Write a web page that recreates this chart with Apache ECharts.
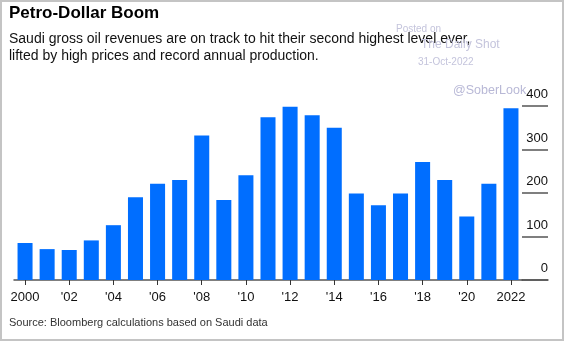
<!DOCTYPE html>
<html>
<head>
<meta charset="utf-8">
<style>
  html, body { margin: 0; padding: 0; background: #fff; }
  #wrap { position: relative; width: 564px; height: 341px; }
  #chart { width: 564px; height: 341px; }
  #frame { position: absolute; left: 0; top: 0; width: 564px; height: 341px;
           box-sizing: border-box; border: 2px solid #c4c4c4; pointer-events: none; }
</style>
<script src="https://cdn.jsdelivr.net/npm/echarts@6/dist/echarts.min.js"></script>
</head>
<body>
<div id="wrap"><div id="chart"></div><div id="frame"></div></div>
<script>
// Saudi gross oil revenues, billions of USD (2022 is the on-track estimate)
const years = ['2000','2001','2002','2003','2004','2005','2006','2007','2008','2009','2010',
               '2011','2012','2013','2014','2015','2016','2017','2018','2019','2020','2021','2022'];
const revenues = [85, 71, 69, 91, 126, 190, 221, 230, 332, 184, 241,
                  374, 398, 379, 350, 199, 172, 199, 271, 230, 146, 221, 395];
const xTickLabels = {'2000':'2000','2002':"'02",'2004':"'04",'2006':"'06",'2008':"'08",'2010':"'10",
                     '2012':"'12",'2014':"'14",'2016':"'16",'2018':"'18",'2020':"'20",'2022':'2022'};
const yTicks = [0, 100, 200, 300, 400];

const FONT = 'Liberation Sans, Arial, sans-serif';
const WM = '#c4c4dc';
const chart = echarts.init(document.getElementById('chart'), null, {renderer: 'canvas'});

function label(text, left, top, size, color, weight, extra) {
  return Object.assign({
    text, left, top, padding: 0,
    textStyle: { fontFamily: FONT, fontWeight: weight || 'normal', fontSize: size, color }
  }, extra || {});
}

const subtitle = label('Saudi gross oil revenues are on track to hit their second highest level ever,\nlifted by high prices and record annual production.',
                       9, 31, 14, '#111');
subtitle.textStyle.lineHeight = 17;

chart.setOption({
  animation: false,
  title: [
    label('Petro-Dollar Boom', 9, 5, 17, '#000', 'bold'),
    subtitle,
    label('Source: Bloomberg calculations based on Saudi data', 9, 317, 11, '#333'),
    label('Posted on', 396, 24, 10, WM),
    label('The Daily Shot', 421, 39, 12, WM),
    label('31-Oct-2022', 418, 57, 10, WM),
    label('@SoberLook', 453, 84, 12.5, '#b8b8d6')
  ],
  grid: [
    { left: 14, right: 42, top: 106, bottom: 61 },
    { left: 522, right: 16, top: 106, bottom: 61 }
  ],
  xAxis: [
    { type: 'category', gridIndex: 0, data: years,
      axisLine: { lineStyle: { color: '#555', width: 1.5 } },
      axisTick: { show: true, alignWithLabel: true, length: 5, lineStyle: { color: '#333' },
                  interval: (i) => i % 2 === 0 },
      axisLabel: { interval: (i) => i % 2 === 0, formatter: (v) => xTickLabels[v] || '',
                   fontFamily: FONT, fontSize: 13, color: '#111', margin: 11 } },
    { type: 'category', gridIndex: 1, data: [''],
      axisLine: { lineStyle: { color: '#555', width: 1.5 } },
      axisTick: { show: false }, axisLabel: { show: false } }
  ],
  yAxis: [
    { type: 'value', gridIndex: 0, min: 0, max: 400, interval: 100,
      axisLine: { show: false }, axisTick: { show: false }, axisLabel: { show: false },
      splitLine: { show: false } },
    { type: 'value', gridIndex: 1, min: yTicks[0], max: yTicks[yTicks.length - 1], interval: 100,
      position: 'right',
      axisLine: { show: false }, axisTick: { show: false },
      splitLine: { show: true, lineStyle: { color: '#555', width: 1.5 } },
      axisLabel: { inside: true, margin: 0, verticalAlign: 'bottom', padding: [0, 0, 5, 0],
                   fontFamily: FONT, fontSize: 13, color: '#111' } }
  ],
  series: [
    { type: 'bar', xAxisIndex: 0, yAxisIndex: 0, data: revenues,
      barCategoryGap: '32%',
      itemStyle: { color: '#006eff' } }
  ]
});
</script>
</body>
</html>
